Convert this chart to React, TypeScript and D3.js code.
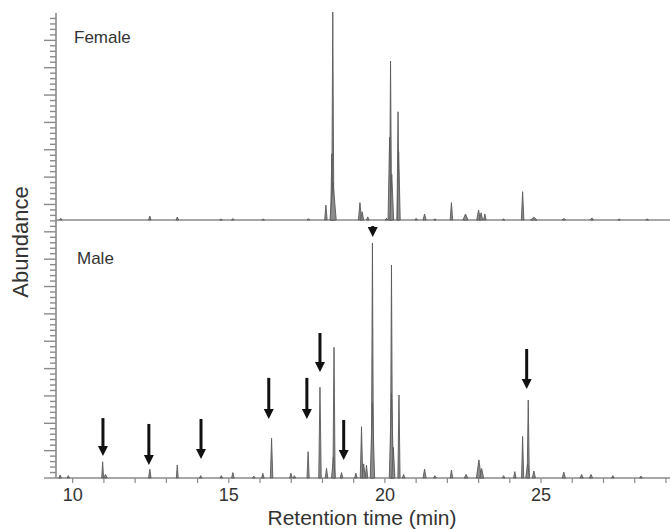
import React from 'react';
import * as d3 from 'd3';

// retention times (min), relative heights (% of panel) and half widths (min)
const femaleRt = [9.62, 12.47, 13.35, 14.75, 15.13, 16.1, 17.55, 18.11, 18.33, 18.3, 18.34, 19.2, 19.27, 19.45, 20.05, 20.18, 20.15, 20.22, 20.42, 20.44, 21.0, 21.27, 21.6, 22.13, 22.58, 23.0, 23.08, 23.2, 23.8, 24.41, 24.77, 25.73, 26.63, 27.5, 28.4];
const femaleHeight = [0.8, 1.9, 1.4, 0.5, 0.7, 0.5, 0.6, 7.2, 100.5, 32, 18, 8.4, 4, 1.5, 0.8, 76.8, 40, 22, 52.3, 33, 0.8, 2.9, 0.6, 8.4, 2.9, 4.8, 3.5, 2.9, 0.5, 13.7, 1.4, 0.8, 1.0, 0.5, 0.5];
const femaleWidth = [0.04, 0.04, 0.04, 0.04, 0.04, 0.04, 0.04, 0.04, 0.035, 0.04, 0.1, 0.05, 0.05, 0.04, 0.04, 0.035, 0.05, 0.06, 0.035, 0.05, 0.04, 0.05, 0.04, 0.04, 0.08, 0.06, 0.05, 0.04, 0.04, 0.04, 0.1, 0.05, 0.05, 0.04, 0.04];

const maleRt = [9.6, 9.86, 10.96, 11.05, 12.47, 13.35, 14.1, 14.76, 15.13, 15.8, 16.09, 16.37, 16.99, 17.1, 17.54, 17.92, 18.13, 18.37, 18.35, 18.61, 19.07, 19.25, 19.32, 19.41, 19.6, 19.6, 20.21, 20.21, 20.27, 20.45, 20.6, 21.27, 21.6, 22.13, 22.6, 23.01, 23.1, 23.8, 24.16, 24.41, 24.59, 24.57, 24.77, 25.73, 26.3, 26.6, 27.3, 28.2];
const maleHeight = [1.3, 1.0, 6.9, 1.5, 3.7, 5.5, 1.0, 1.0, 2.3, 0.8, 2.0, 16.9, 2.0, 1.0, 11.2, 38.6, 4.1, 55.6, 9, 2.3, 2, 21.8, 6, 5.5, 100, 32, 90.6, 36, 13, 35.3, 1.5, 3.8, 1.0, 3.4, 1.5, 7.7, 4, 1.0, 2.7, 17.7, 33.2, 6, 3, 2.5, 1.5, 1.5, 1, 0.8];
const maleWidth = [0.04, 0.04, 0.03, 0.06, 0.04, 0.03, 0.04, 0.04, 0.04, 0.04, 0.04, 0.04, 0.04, 0.04, 0.035, 0.04, 0.04, 0.035, 0.06, 0.04, 0.04, 0.04, 0.05, 0.04, 0.035, 0.07, 0.035, 0.07, 0.05, 0.035, 0.04, 0.05, 0.04, 0.04, 0.06, 0.08, 0.06, 0.04, 0.04, 0.035, 0.035, 0.06, 0.05, 0.05, 0.05, 0.05, 0.04, 0.04];

// arrows in the male trace: retention time, tip and tail (% of male panel)
const arrowRt = [10.97, 12.44, 14.11, 16.28, 17.5, 17.92, 18.68, 19.61, 24.54];
const arrowTip = [9.4, 5.5, 8.1, 25.1, 25.1, 45.1, 7.7, 102.6, 37.9];
const arrowTail = [25.5, 23, 25.1, 42.6, 42.6, 61.7, 24.7, 107.2, 54.9];

const xTickLabels = [10, 15, 20, 25];
const xMinorTicks = d3.range(10, 30);

const W = 670;
const H = 529;
const font = '"Liberation Sans", Arial, Helvetica, sans-serif';

export default function App() {
  const x = d3.scaleLinear().domain([9.466, 29.13]).range([56, W]);
  const yF = d3.scaleLinear().domain([0, 100]).range([220, 13]);
  const yM = d3.scaleLinear().domain([0, 100]).range([478, 243]);
  const yAxis = d3.scaleLinear().domain([0, 17]).range([478, 13]);
  const yTicks = d3.range(0, 85).map(i => i / 5);

  const peakPath = (y: d3.ScaleLinear<number, number>, rt: number, h: number, w: number) =>
    d3.area<[number, number]>()
      .x(d => x(d[0]))
      .y0(y(0))
      .y1(d => y(d[1]))([[rt - w, 0], [rt, h], [rt + w, 0]]);

  const traceColor = '#5a5a5a';
  const axisColor = '#8a8a8a';

  return (
    <>
      <style>{`body{margin:0}`}</style>
      <svg width={W} height={H} style={{ display: 'block' }}>
        <rect width={W} height={H} fill="#fff" />
        {/* baselines */}
        <line x1={x(9.466)} x2={x(29.13)} y1={yF(0)} y2={yF(0)} stroke={axisColor} strokeWidth={1.3} />
        <line x1={x(9.466)} x2={x(29.13)} y1={yM(0)} y2={yM(0)} stroke={axisColor} strokeWidth={1.6} />

        {/* female trace */}
        <g>
          {femaleRt.map((rt, i) => (
            <path key={'f' + i} d={peakPath(yF, rt, femaleHeight[i], femaleWidth[i]) || ''}
              fill="#8c8c8c" stroke={traceColor} strokeWidth={0.9} strokeLinejoin="round" />
          ))}
        </g>
        {/* male trace */}
        <g>
          {maleRt.map((rt, i) => (
            <path key={'m' + i} d={peakPath(yM, rt, maleHeight[i], maleWidth[i]) || ''}
              fill="#8c8c8c" stroke={traceColor} strokeWidth={0.9} strokeLinejoin="round" />
          ))}
        </g>

        {/* y axis */}
        <line x1={56} x2={56} y1={yAxis(17)} y2={yAxis(0)} stroke={axisColor} strokeWidth={1.6} />
        {yTicks.map((t, i) => {
          const major = i % 5 === 0;
          return (
            <line key={'yt' + i} x1={major ? 44 : 50} x2={56} y1={yAxis(t)} y2={yAxis(t)}
              stroke={axisColor} strokeWidth={1.4} />
          );
        })}

        {/* x axis ticks */}
        {xMinorTicks.map(t => (
          <line key={'xt' + t} x1={x(t)} x2={x(t)} y1={478} y2={483} stroke={axisColor} strokeWidth={1.2} />
        ))}
        {xTickLabels.map(t => (
          <text key={'xl' + t} x={x(t)} y={501} textAnchor="middle" fontFamily={font}
            fontSize={18} fill="#333">{t}</text>
        ))}

        {/* arrows (pointing down onto the peaks) */}
        {arrowRt.map((rt, i) => {
          const cx = x(rt);
          const tipY = yM(arrowTip[i]);
          const tailY = yM(arrowTail[i]);
          const len = tipY - tailY;
          const head = Math.min(10, len);
          return (
            <g key={'a' + i}>
              {len > head && (
                <line x1={cx} x2={cx} y1={tailY} y2={tipY - head + 1} stroke="#111" strokeWidth={3} />
              )}
              <path d={`M${cx - 5},${tipY - head}L${cx + 5},${tipY - head}L${cx},${tipY}Z`} fill="#111" />
            </g>
          );
        })}

        {/* labels */}
        <text x={74} y={43} fontFamily={font} fontSize={17} fill="#333">Female</text>
        <text x={77} y={264} fontFamily={font} fontSize={17} fill="#333">Male</text>
        <text x={362} y={525} textAnchor="middle" fontFamily={font} fontSize={21} fill="#333">Retention time (min)</text>
        <text transform="translate(28,242) rotate(-90)" textAnchor="middle" fontFamily={font}
          fontSize={22} fill="#333">Abundance</text>
      </svg>
    </>
  );
}
